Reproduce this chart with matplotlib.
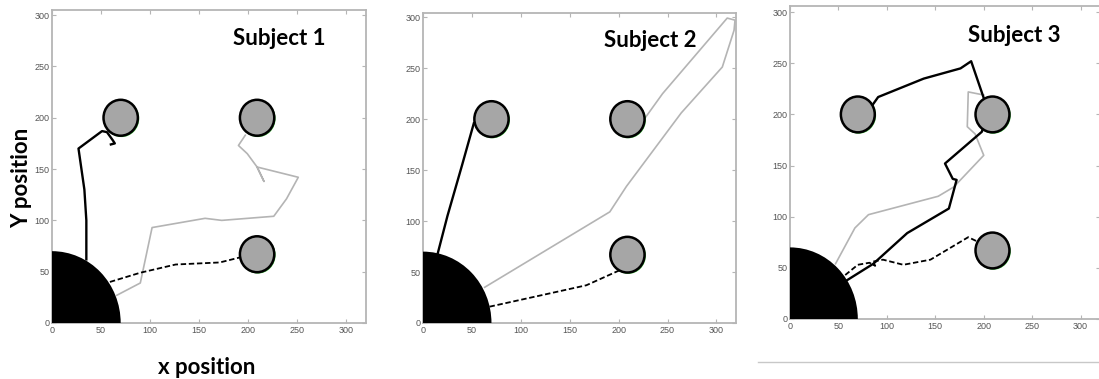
import numpy as np
import matplotlib.pyplot as plt
from matplotlib.patches import Circle, Wedge

# ---- data ----------------------------------------------------------------
targets = [(70, 200), (209, 200), (209, 67)]
target_r = 17.5
home_r = 70

titles = ['Subject 1', 'Subject 2', 'Subject 3']

# subject 1
s1_black_x = [35, 35, 33, 30, 27, 51, 56, 62, 64, 60]
s1_black_y = [62, 100, 130, 150, 170, 187, 186, 178, 175, 174]
s1_gray_x = [66, 90, 102, 156, 173, 226, 239, 251, 209, 216, 209, 199, 190, 197]
s1_gray_y = [27, 39, 93, 102, 100, 104, 121, 142, 152, 138, 152, 165, 173, 183]
s1_dash_x = [59, 90, 126, 171, 192, 195]
s1_dash_y = [40, 49, 57, 59, 64, 66]

# subject 2
s2_black_x = [15, 25, 40, 52]
s2_black_y = [68, 105, 155, 196]
s2_gray_x = [63, 191, 208, 264, 306, 318, 319, 311, 245, 227]
s2_gray_y = [35, 109, 134, 206, 251, 287, 297, 299, 225, 201]
s2_dash_x = [68, 120, 167, 204]
s2_dash_y = [16, 27, 37, 53]

# subject 3
s3_black_x = [59, 86, 121, 164, 170, 172, 168, 160, 198, 204, 200, 187, 176, 138, 91, 85]
s3_black_y = [38, 54, 84, 108, 129, 136, 137, 152, 183, 200, 216, 252, 245, 235, 217, 209]
s3_gray_x = [47, 67, 81, 153, 169, 200, 191, 183, 184, 200]
s3_gray_y = [54, 89, 102, 120, 129, 160, 181, 188, 222, 219]
s3_dash_x = [57, 70, 82, 88, 85, 96, 117, 145, 184, 195]
s3_dash_y = [43, 53, 55, 52, 56, 58, 53, 58, 80, 75]

paths = [
    (s1_black_x, s1_black_y, s1_gray_x, s1_gray_y, s1_dash_x, s1_dash_y),
    (s2_black_x, s2_black_y, s2_gray_x, s2_gray_y, s2_dash_x, s2_dash_y),
    (s3_black_x, s3_black_y, s3_gray_x, s3_gray_y, s3_dash_x, s3_dash_y),
]

# ---- layout (figure pixels 1099 x 379) -----------------------------------
W, H = 1099., 379.
boxes = [  # left, bottom, width, height in px
    (52, 56, 314, 313),
    (423, 56, 313, 310),
    (790, 60, 310, 313),
]
ytops = [305, 304, 306]

fig = plt.figure(figsize=(W / 100, H / 100), dpi=100)
spine_col = '#b5b5b5'

for i in range(3):
    l, b, w, h = boxes[i]
    ax = fig.add_axes([l / W, b / H, w / W, h / H])
    ax.set_xlim(0, 320)
    ax.set_ylim(0, ytops[i])
    bx, by, gx, gy, dx, dy = paths[i]

    ax.plot(gx, gy, color='#b4b4b4', lw=1.2, zorder=2)
    ax.plot(dx, dy, color='black', lw=1.3, ls=(0, (3, 1.5)), zorder=2)
    ax.plot(bx, by, color='black', lw=1.7, zorder=3)

    ax.add_patch(Wedge((0, 0), home_r, 0, 90, facecolor='black',
                       edgecolor='none', zorder=4, clip_on=True))
    for cx, cy in targets:
        ax.add_patch(Circle((cx + 0.8, cy - 0.8), target_r, facecolor='none',
                            edgecolor='#3fbf3f', lw=0.8, zorder=4))
        ax.add_patch(Circle((cx, cy), target_r, facecolor='#a6a6a6',
                            edgecolor='black', lw=1.8, zorder=5))

    ax.text(232, 277, titles[i], ha='center', va='center', fontsize=16,
            fontweight='bold', family='Lato', zorder=6)

    ax.set_xticks(np.arange(0, 301, 50))
    ax.set_yticks(np.arange(0, 301, 50))
    ax.tick_params(direction='in', length=3, width=0.8, color=spine_col,
                   labelcolor='#555555', labelsize=6.5, pad=2,
                   top=True, right=True)
    for lab in ax.get_xticklabels() + ax.get_yticklabels():
        lab.set_family('Liberation Sans')
    for s in ax.spines.values():
        s.set_color(spine_col)
        s.set_linewidth(1.3)

fig.text(207 / W, (H - 367) / H, 'x position', ha='center', va='center',
         fontsize=16, fontweight='bold', family='Lato')
fig.text(22 / W, (H - 178) / H, 'Y position', ha='center', va='center',
         rotation=90, fontsize=16, fontweight='bold', family='Lato')

# thin separator under the third panel
fig.add_artist(plt.Line2D([758 / W, 1.0], [(H - 362) / H] * 2,
                          color='#c8c8c8', lw=1.0))

fig.savefig('out.png', dpi=100)
